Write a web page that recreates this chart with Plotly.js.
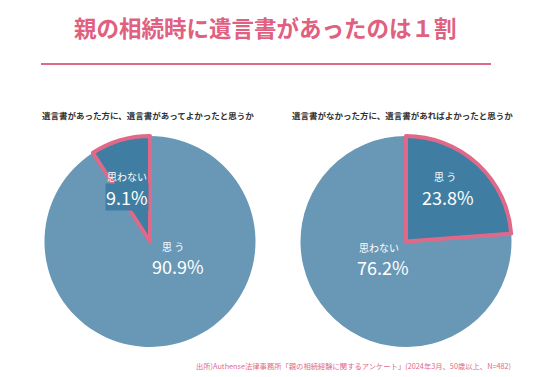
<!DOCTYPE html>
<html><head><meta charset="utf-8">
<script src="https://cdn.plot.ly/plotly-3.0.1.min.js"></script>
<style>html,body{margin:0;padding:0;background:#fff;}#chart{width:545px;height:377px;}</style>
</head><body><div id="chart"></div>
<script>
const titleText = "親の相続時に遺言書があったのは１割";
const leftTitle = "遺言書があった方に、遺言書があってよかったと思うか";
const rightTitle = "遺言書がなかった方に、遺言書があればよかったと思うか";
const sourceText = "出所)Authense法律事務所「親の相続経験に関するアンケート」(2024年3月、50歳以上、N=482)";
const leftLabels = ["思う", "思わない"];
const leftValues = [90.9, 9.1];
const rightLabels = ["思う", "思わない"];
const rightValues = [23.8, 76.2];

const LIGHT = "#6898b6", DARK = "#3f7ea2", PINK = "#e0698a", TPINK = "#e0607f";
const FONT = "Noto Sans CJK JP";
const leftDom = {x: [0.0807, 0.4697], y: [0.0796, 0.6393]};
const rightDom = {x: [0.5505, 0.9394], y: [0.0796, 0.6393]};

function pies(labels, values, dom, hi) {
  const base = {type: "pie", labels: labels, values: values, sort: false, direction: "clockwise",
    rotation: 0, domain: dom, textinfo: "none", hoverinfo: "skip", showlegend: false};
  const cols = labels.map((l, i) => i === hi ? DARK : LIGHT);
  const cols2 = labels.map((l, i) => i === hi ? DARK : "rgba(0,0,0,0)");
  const lc = labels.map((l, i) => i === hi ? PINK : "rgba(0,0,0,0)");
  const lw = labels.map((l, i) => i === hi ? 4 : 0);
  return [
    Object.assign({}, base, {marker: {colors: cols, line: {width: 0}}}),
    Object.assign({}, base, {marker: {colors: cols2, line: {color: lc, width: lw}}})
  ];
}

const data = [].concat(
  pies(leftLabels, leftValues, leftDom, 1),
  pies(rightLabels, rightValues, rightDom, 0)
);

function ann(text, x, y, size, color, extra) {
  return Object.assign({text: text, x: x / 545, y: 1 - y / 377, xref: "paper", yref: "paper",
    showarrow: false, xanchor: "center", yanchor: "middle",
    font: {family: FONT, size: size, color: color}}, extra || {});
}

const annotations = [
  ann("<b>" + titleText + "</b>", 265, 27, 22.5, TPINK),
  ann("<b>" + leftTitle + "</b>", 148, 115, 8.5, "#333333"),
  ann("<b>" + rightTitle + "</b>", 402, 115, 8.5, "#333333"),
  ann(leftLabels[1], 127, 176, 10, "#ffffff"),
  ann(leftValues[1].toFixed(1) + "%", 127, 197, 18, "#ffffff", {bgcolor: DARK, borderpad: 0}),
  ann(leftLabels[0].split("").join(" "), 173, 246, 10, "#ffffff"),
  ann(leftValues[0].toFixed(1) + "%", 178, 266, 18, "#ffffff"),
  ann(rightLabels[0].split("").join(" "), 445, 177, 10, "#ffffff"),
  ann(rightValues[0].toFixed(1) + "%", 448, 197, 18, "#ffffff"),
  ann(rightLabels[1], 379, 247, 10, "#ffffff"),
  ann(rightValues[1].toFixed(1) + "%", 383, 267, 18, "#ffffff"),
  ann(sourceText, 353, 366, 7.3, PINK)
];

const layout = {
  width: 545, height: 377, margin: {l: 0, r: 0, t: 0, b: 0},
  paper_bgcolor: "#ffffff", plot_bgcolor: "#ffffff",
  annotations: annotations,
  shapes: [{type: "line", xref: "paper", yref: "paper", x0: 41 / 545, x1: 491 / 545,
    y0: 1 - 64 / 377, y1: 1 - 64 / 377, line: {color: PINK, width: 2}}]
};
Plotly.newPlot("chart", data, layout, {displayModeBar: false, staticPlot: true});
</script></body></html>
